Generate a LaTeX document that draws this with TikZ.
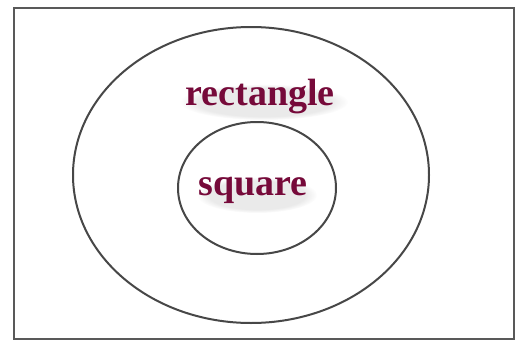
\documentclass[tikz,border=0pt]{standalone}
\usepackage{fontspec}
\setmainfont{Liberation Serif}
\usetikzlibrary{shapes.geometric,fadings}
\begin{document}
\begin{tikzpicture}[x=1pt,y=-1pt,
  frame/.style={draw=black!65,line width=2pt},
  ring/.style={draw=black!72,line width=2pt},
  glow/.style={fill=black!40,path fading=circle with fuzzy edge 20 percent,opacity=0.2},
  lbl/.style={text=labelred,font=\fontsize{38}{40}\selectfont\bfseries,inner sep=0pt}]
\definecolor{labelred}{RGB}{118,10,58}
\useasboundingbox (0,0) rectangle (525,343);
\fill[white] (0,0) rectangle (525,343);
\node[frame,minimum width=500pt,minimum height=331pt,inner sep=0pt] (box) at (263.5,173.5) {};
\node[ring,ellipse,minimum width=356pt,minimum height=296pt,inner sep=0pt] (outer) at (251,175) {};
\node[ring,ellipse,minimum width=158pt,minimum height=132pt,inner sep=0pt] (inner) at (257,188) {};
\fill[glow] (264,102) ellipse (84pt and 18pt);
\fill[glow] (257,195) ellipse (60pt and 18pt);
\node[lbl] (rect) at (260,97) {rectangle};
\node[lbl] (sq) at (253,190) {square};
\end{tikzpicture}
\end{document}
